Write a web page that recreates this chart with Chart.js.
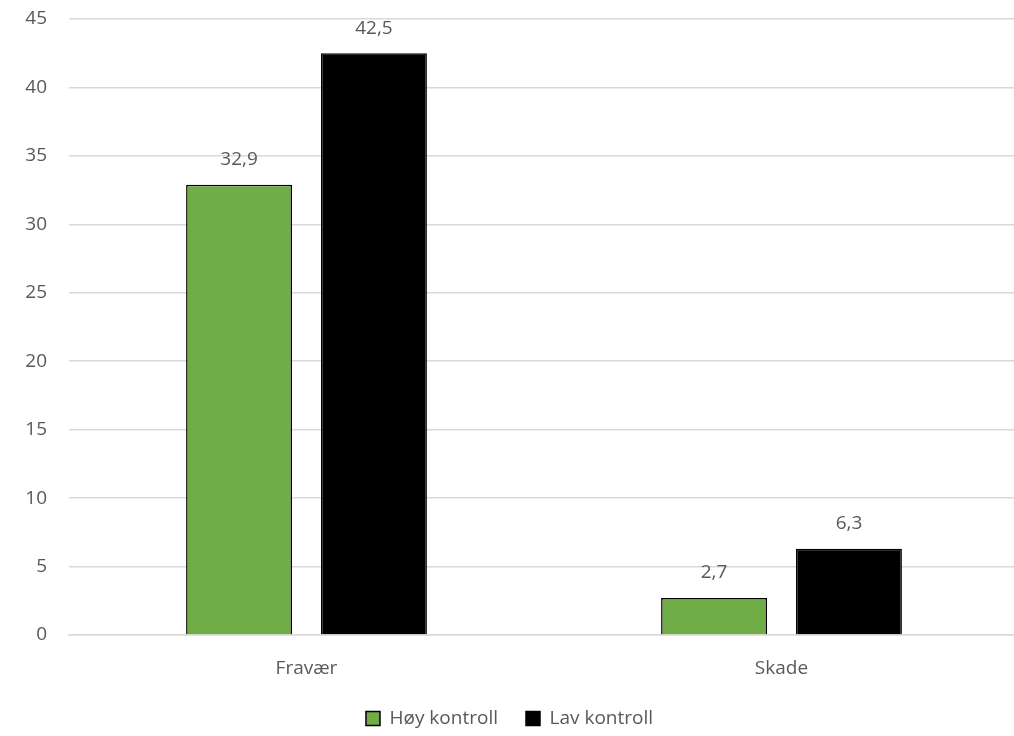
<!DOCTYPE html>
<html>
<head>
<meta charset="utf-8">
<script src="https://cdn.jsdelivr.net/npm/chart.js@4/dist/chart.umd.min.js"></script>
<style>
  html, body { margin: 0; padding: 0; background: #fff; overflow: hidden; }
  #wrap { width: 1019px; height: 736px; }
</style>
</head>
<body>
<div id="wrap"><canvas id="chart"></canvas></div>
<script>
const categories = ['Fravær', 'Skade'];
const hoyKontroll = [32.9, 2.7];
const lavKontroll = [42.5, 6.3];
const yTicks = [0, 5, 10, 15, 20, 25, 30, 35, 40, 45];

const fontFamily = '"Open Sans", "Noto Sans", sans-serif';
const fontSize = 19;
const textGray = '#595959';

// draws value labels above each bar
const valueLabels = {
  id: 'valueLabels',
  afterDatasetsDraw(chart) {
    const ctx = chart.ctx;
    ctx.save();
    ctx.font = fontSize + 'px ' + fontFamily;
    ctx.fillStyle = textGray;
    ctx.textAlign = 'center';
    ctx.textBaseline = 'middle';
    chart.data.datasets.forEach((ds, i) => {
      chart.getDatasetMeta(i).data.forEach((bar, j) => {
        ctx.fillText(ds.data[j].toFixed(1).replace('.', ','), bar.x, bar.y - 25);
      });
    });
    ctx.restore();
  }
};

new Chart(document.getElementById('chart'), {
  type: 'bar',
  data: {
    labels: categories,
    datasets: [
      {
        label: 'Høy kontroll',
        data: hoyKontroll,
        backgroundColor: '#70AD47',
        borderColor: '#000000',
        borderWidth: 1.5
      },
      {
        label: 'Lav kontroll',
        data: lavKontroll,
        backgroundColor: '#000000',
        borderColor: '#000000',
        borderWidth: 1.5
      }
    ]
  },
  options: {
    responsive: true,
    maintainAspectRatio: false,
    animation: false,
    categoryPercentage: 0.568,
    barPercentage: 0.785,
    layout: { padding: { top: 19, left: 0, right: 0, bottom: -2 } },
    plugins: {
      tooltip: { enabled: false },
      legend: {
        position: 'bottom',
        labels: {
          color: textGray,
          font: { family: fontFamily, size: fontSize },
          boxWidth: 14,
          boxHeight: 14,
          padding: 28,
          useBorderRadius: false
        }
      }
    },
    scales: {
      x: {
        grid: { display: false },
        border: { color: '#d9d9d9', width: 1.5 },
        ticks: {
          color: textGray,
          font: { family: fontFamily, size: fontSize },
          padding: 14
        },
        afterFit(scale) { scale.height = 46; }
      },
      y: {
        min: 0,
        max: 45,
        afterBuildTicks(scale) { scale.ticks = yTicks.map(v => ({ value: v })); },
        grid: { color: '#d9d9d9', lineWidth: 1.5, drawTicks: false },
        border: { display: false },
        ticks: {
          color: textGray,
          font: { family: fontFamily, size: fontSize },
          padding: 22
        },
        afterFit(scale) {
          scale.width = 69;
          scale.paddingTop = 0;
          scale.paddingBottom = 0;
        }
      }
    }
  },
  plugins: [valueLabels]
});
</script>
</body>
</html>
